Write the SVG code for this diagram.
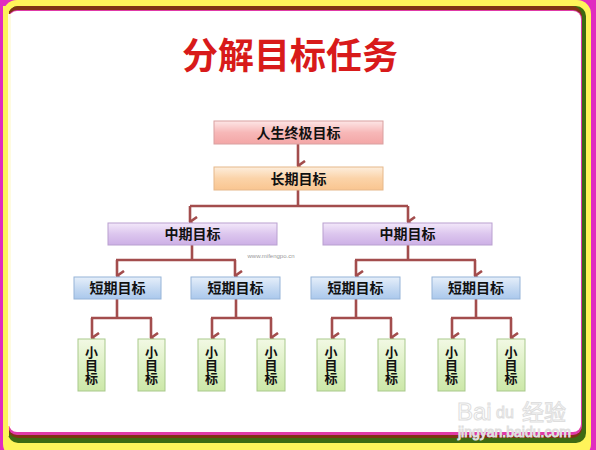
<svg xmlns="http://www.w3.org/2000/svg" width="596" height="450" viewBox="0 0 596 450">
<defs>
<linearGradient id="gPink" x1="0" y1="0" x2="0" y2="1"><stop offset="0" stop-color="#fde6e6"/><stop offset="0.5" stop-color="#f7b8b8"/><stop offset="1" stop-color="#f3a6a6"/></linearGradient>
<linearGradient id="gOrange" x1="0" y1="0" x2="0" y2="1"><stop offset="0" stop-color="#fdeedd"/><stop offset="0.5" stop-color="#fbd3a8"/><stop offset="1" stop-color="#f9c590"/></linearGradient>
<linearGradient id="gPurple" x1="0" y1="0" x2="0" y2="1"><stop offset="0" stop-color="#f3e8fa"/><stop offset="0.5" stop-color="#dcc6ee"/><stop offset="1" stop-color="#cdb0e6"/></linearGradient>
<linearGradient id="gBlue" x1="0" y1="0" x2="0" y2="1"><stop offset="0" stop-color="#e6effa"/><stop offset="0.5" stop-color="#c6daf2"/><stop offset="1" stop-color="#aac8ec"/></linearGradient>
<linearGradient id="gGreen" x1="0" y1="0" x2="0" y2="1"><stop offset="0" stop-color="#f2f9e4"/><stop offset="0.5" stop-color="#ddf0c4"/><stop offset="1" stop-color="#cce8a8"/></linearGradient>
<marker id="arr" markerUnits="userSpaceOnUse" markerWidth="12" markerHeight="10" refX="6" refY="9" orient="auto-start-reverse" viewBox="0 0 12 10">
<path d="M1,2 L6,9 L11,2" fill="none" stroke="#a34d4d" stroke-width="2.6" stroke-linejoin="miter"/>
</marker>
<style>
.box{stroke-width:1}
.pink{fill:url(#gPink);stroke:#d9a0a0}
.orange{fill:url(#gOrange);stroke:#e6b88a}
.purple{fill:url(#gPurple);stroke:#b9a0d0}
.blue{fill:url(#gBlue);stroke:#96b4d8}
.green{fill:url(#gGreen);stroke:#a9c98c}
.t{font-family:"Noto Sans CJK SC","Noto Sans CJK JP",sans-serif;font-size:14px;font-weight:bold;fill:#111;text-anchor:middle}
.v{font-family:"Noto Sans CJK SC","Noto Sans CJK JP",sans-serif;font-size:13px;font-weight:bold;fill:#111;text-anchor:middle;writing-mode:vertical-rl}
.c{fill:none;stroke:#a34d4d;stroke-width:2.6}
</style>
</defs>
<!-- frame -->
<rect x="0" y="0" width="596" height="450" fill="#e02cc0"/>
<rect x="3" y="0" width="588" height="458" rx="14" fill="#fff45a"/>
<rect x="8" y="6" width="578" height="437" rx="10" fill="#3e6a12"/>
<rect x="8" y="6" width="574" height="432" rx="10" fill="#7f3414"/>
<rect x="8" y="10" width="574" height="425" rx="9" fill="#e03aa8"/>
<rect x="9" y="11" width="572" height="421" rx="8" fill="#ffffff"/>
<rect x="3" y="6" width="6" height="430" fill="#fff45a"/>
<rect x="8" y="14" width="3" height="412" fill="#fffbe0"/>

<text x="290" y="69" font-family="Noto Sans CJK SC,sans-serif" font-size="36" font-weight="bold" fill="#d81a1a" text-anchor="middle">分解目标任务</text>

<g id="connectors">
<line class="c" x1="298" y1="144" x2="298" y2="166" marker-end="url(#arr)"/>
<path class="c" d="M298,190 V206 M190,206 H408"/>
<line class="c" x1="190" y1="206" x2="190" y2="222" marker-end="url(#arr)"/>
<line class="c" x1="408" y1="206" x2="408" y2="222" marker-end="url(#arr)"/>
<path class="c" d="M192,245 V260 M116,260 H236"/>
<line class="c" x1="117" y1="260" x2="117" y2="276" marker-end="url(#arr)"/>
<line class="c" x1="235" y1="260" x2="235" y2="276" marker-end="url(#arr)"/>
<path class="c" d="M408,245 V260 M355,260 H476"/>
<line class="c" x1="356" y1="260" x2="356" y2="276" marker-end="url(#arr)"/>
<line class="c" x1="475" y1="260" x2="475" y2="276" marker-end="url(#arr)"/>
<path class="c" d="M117,299 V318 M91,318 H152"/>
<line class="c" x1="92" y1="318" x2="92" y2="338" marker-end="url(#arr)"/>
<line class="c" x1="151" y1="318" x2="151" y2="338" marker-end="url(#arr)"/>
<path class="c" d="M236,299 V318 M211,318 H272"/>
<line class="c" x1="212" y1="318" x2="212" y2="338" marker-end="url(#arr)"/>
<line class="c" x1="271" y1="318" x2="271" y2="338" marker-end="url(#arr)"/>
<path class="c" d="M356,299 V318 M331,318 H392"/>
<line class="c" x1="332" y1="318" x2="332" y2="338" marker-end="url(#arr)"/>
<line class="c" x1="391" y1="318" x2="391" y2="338" marker-end="url(#arr)"/>
<path class="c" d="M476,299 V318 M451,318 H512"/>
<line class="c" x1="452" y1="318" x2="452" y2="338" marker-end="url(#arr)"/>
<line class="c" x1="511" y1="318" x2="511" y2="338" marker-end="url(#arr)"/>
</g>

<g id="n-life"><rect class="box pink" x="214" y="121" width="169" height="23"/><text class="t" x="298.5" y="137.5">人生终极目标</text></g>
<g id="n-long"><rect class="box orange" x="214" y="167" width="169" height="23"/><text class="t" x="298.5" y="183.5">长期目标</text></g>
<g id="n-mid1"><rect class="box purple" x="108" y="223" width="169" height="22"/><text class="t" x="192.5" y="239">中期目标</text></g>
<g id="n-mid2"><rect class="box purple" x="323" y="223" width="169" height="22"/><text class="t" x="407.5" y="239">中期目标</text></g>
<g id="n-s1"><rect class="box blue" x="74" y="277" width="87" height="22"/><text class="t" x="117.5" y="293">短期目标</text></g>
<g id="n-s2"><rect class="box blue" x="191" y="277" width="89" height="22"/><text class="t" x="235.5" y="293">短期目标</text></g>
<g id="n-s3"><rect class="box blue" x="311" y="277" width="89" height="22"/><text class="t" x="355.5" y="293">短期目标</text></g>
<g id="n-s4"><rect class="box blue" x="432" y="277" width="88" height="22"/><text class="t" x="476" y="293">短期目标</text></g>

<g id="n-x1"><rect class="box green" x="78" y="339" width="27" height="52"/><text class="v" x="91.5" y="365">小目标</text></g>
<g id="n-x2"><rect class="box green" x="138" y="339" width="27" height="52"/><text class="v" x="151.5" y="365">小目标</text></g>
<g id="n-x3"><rect class="box green" x="198" y="339" width="27" height="52"/><text class="v" x="211.5" y="365">小目标</text></g>
<g id="n-x4"><rect class="box green" x="257" y="339" width="28" height="52"/><text class="v" x="271" y="365">小目标</text></g>
<g id="n-x5"><rect class="box green" x="317" y="339" width="28" height="52"/><text class="v" x="331" y="365">小目标</text></g>
<g id="n-x6"><rect class="box green" x="378" y="339" width="27" height="52"/><text class="v" x="391.5" y="365">小目标</text></g>
<g id="n-x7"><rect class="box green" x="438" y="339" width="27" height="52"/><text class="v" x="451.5" y="365">小目标</text></g>
<g id="n-x8"><rect class="box green" x="497" y="339" width="28" height="52"/><text class="v" x="511" y="365">小目标</text></g>

<text x="271" y="258" font-family="Liberation Sans,sans-serif" font-size="6" fill="#999" text-anchor="middle">www.mifengpo.cn</text>
<g fill="#ffffff" stroke="#dedede" stroke-width="1" font-family="Liberation Sans,Noto Sans CJK SC,sans-serif">
<text x="457" y="420" font-size="24">Bai</text>
<text x="496" y="418" font-size="16">du</text>
<text x="522" y="420" font-size="22" font-family="Noto Sans CJK SC,sans-serif">经验</text>
<text x="458" y="437" font-size="14">jingyan.baidu.com</text>
</g>
</svg>
